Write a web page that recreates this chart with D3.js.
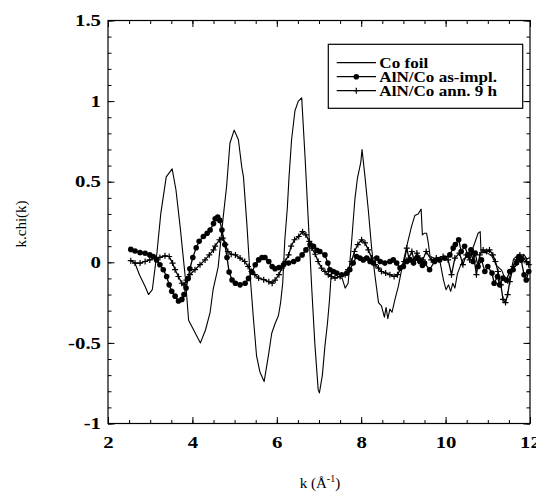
<!DOCTYPE html>
<html>
<head>
<meta charset="utf-8">
<script src="https://cdn.jsdelivr.net/npm/d3@7"></script>
<style>
  body { margin: 0; background: #fff; }
  text { font-family: "Liberation Serif", "Times New Roman", serif; }
</style>
</head>
<body>
<div id="chart"></div>
<script>
// tick labels
const xTicks = [2, 4, 6, 8, 10, 12];
const yTicks = [-1, -0.5, 0, 0.5, 1, 1.5];
const seriesNames = ["Co foil", "AlN/Co as-impl.", "AlN/Co ann. 9 h"];

// Co foil (plain line)
const foilK = [2.63, 2.75, 2.88, 2.96, 3.05, 3.16, 3.25, 3.38, 3.52, 3.61, 3.71, 3.83, 3.91, 4.03, 4.19, 4.31, 4.42, 4.49,
  4.61, 4.73, 4.81, 4.89, 4.99, 5.09, 5.17, 5.21, 5.29, 5.37, 5.44, 5.52, 5.6, 5.7, 5.8, 5.88, 5.96, 6.04, 6.09,
  6.14, 6.19, 6.25, 6.29, 6.35, 6.43, 6.51, 6.59, 6.67, 6.75, 6.83, 6.9, 6.98, 7.01, 7.08, 7.14, 7.2, 7.25, 7.29,
  7.36, 7.45, 7.55, 7.62, 7.69, 7.77, 7.85, 7.91, 7.99, 8.02, 8.09, 8.17, 8.25, 8.33, 8.41, 8.48, 8.55, 8.59, 8.63,
  8.68, 8.73, 8.8, 8.88, 8.97, 9.08, 9.19, 9.27, 9.35, 9.42, 9.45, 9.49, 9.55, 9.59, 9.63, 9.75, 9.87, 9.95, 10.01,
  10.07, 10.12, 10.17, 10.22, 10.28, 10.34, 10.42, 10.58, 10.69, 10.77, 10.82, 10.84, 10.98, 11.09, 11.21, 11.33,
  11.41, 11.47, 11.53, 11.61, 11.69, 11.77, 11.85, 11.93, 11.99];
const foilY = [0.0, -0.08, -0.15, -0.2, -0.17, 0.06, 0.3, 0.53, 0.58, 0.45, 0.22, -0.09, -0.36, -0.42, -0.5, -0.42, -0.31, -0.17,
  -0.03, 0.28, 0.47, 0.74, 0.82, 0.76, 0.59, 0.53, 0.24, -0.09, -0.33, -0.58, -0.68, -0.74, -0.58, -0.44, -0.38, -0.33, -0.25,
  -0.13, 0.14, 0.34, 0.53, 0.76, 0.94, 1.0, 1.02, 0.65, 0.24, -0.17, -0.5, -0.79, -0.81, -0.7, -0.52, -0.38, -0.23, -0.07,
  -0.06, -0.09, -0.1, -0.16, -0.13, 0.12, 0.39, 0.52, 0.62, 0.7, 0.53, 0.32, 0.08, -0.09, -0.25, -0.27, -0.34, -0.28, -0.35,
  -0.29, -0.31, -0.23, -0.15, -0.03, 0.1, 0.22, 0.29, 0.3, 0.33, 0.17, 0.18, 0.18, 0.12, 0.04, 0.02, 0.0, -0.11, -0.17,
  -0.14, -0.18, -0.13, -0.16, -0.07, -0.03, 0.02, 0.04, 0.12, 0.18, 0.19, 0.06, 0.06, 0.04, -0.02, -0.05,
  -0.1, -0.13, -0.08, 0.02, 0.04, 0.0, 0.05, 0.02, 0.03];

// AlN/Co as-implanted (filled circles)
const asK = [2.54, 2.64, 2.76, 2.88, 2.99, 3.07, 3.15, 3.23, 3.31, 3.39, 3.45, 3.51, 3.59, 3.67, 3.75, 3.8, 3.85, 3.9, 3.94,
  4.01, 4.09, 4.16, 4.26, 4.35, 4.42, 4.5, 4.54, 4.6, 4.65, 4.7, 4.77, 4.82, 4.87, 4.94, 5.02, 5.13, 5.25, 5.33, 5.41,
  5.49, 5.57, 5.65, 5.72, 5.81, 5.89, 5.96, 6.05, 6.16, 6.28, 6.4, 6.5, 6.6, 6.69, 6.79, 6.87, 6.95, 7.02, 7.14, 7.21,
  7.26, 7.34, 7.42, 7.54, 7.66, 7.73, 7.81, 7.89, 7.97, 8.05, 8.13, 8.21, 8.29, 8.37, 8.45, 8.56, 8.68, 8.76, 8.84,
  8.92, 9.0, 9.08, 9.16, 9.24, 9.32, 9.39, 9.45, 9.5, 9.62, 9.74, 9.86, 9.98, 10.1, 10.18, 10.23, 10.31, 10.37, 10.45,
  10.53, 10.6, 10.65, 10.7, 10.77, 10.85, 10.93, 11.0, 11.1, 11.15, 11.23, 11.28, 11.36, 11.44, 11.52, 11.6, 11.68,
  11.74, 11.79, 11.86, 11.91, 11.97];
const asY = [0.08, 0.07, 0.06, 0.056, 0.046, 0.036, 0.015, -0.015, -0.046, -0.088, -0.14, -0.18, -0.21, -0.24, -0.23, -0.2, -0.16, -0.1, -0.04,
  0.03, 0.09, 0.13, 0.16, 0.18, 0.2, 0.24, 0.27, 0.28, 0.26, 0.2, 0.11, 0.03, -0.06, -0.11, -0.13, -0.14, -0.13, -0.1, -0.06,
  -0.015, 0.015, 0.03, 0.03, 0.005, -0.026, -0.04, -0.032, -0.015, -0.005, 0.005, 0.02, 0.046, 0.077, 0.11, 0.1, 0.075, 0.067, 0.046, -0.005,
  -0.046, -0.057, -0.067, -0.077, -0.067, -0.046, -0.005, 0.036, 0.026, 0.015, 0.026, 0.005, -0.005, 0.026, 0.005, -0.005, 0.005, 0.015, -0.005,
  -0.036, -0.026, 0.005, 0.015, -0.005, 0.026, 0.005, -0.02, -0.005, -0.046, 0.005, 0.015, 0.026, 0.046, 0.088, 0.11, 0.14, 0.067, 0.1,
  0.046, 0.077, 0.005, 0.057, -0.026, 0.015, -0.057, -0.026, -0.067, -0.13, -0.088, -0.14, -0.098, -0.11, -0.057, -0.046, -0.005,
  0.036, 0.015, -0.077, -0.11, -0.057];

// AlN/Co annealed 9 h (plus signs)
const annK = [2.54, 2.64, 2.76, 2.88, 2.99, 3.11, 3.23, 3.35, 3.45, 3.53, 3.59, 3.67, 3.75, 3.8, 3.86, 3.94, 4.06, 4.18, 4.3,
  4.4, 4.5, 4.54, 4.64, 4.72, 4.78, 4.84, 4.92, 5.02, 5.13, 5.24, 5.32, 5.4, 5.48, 5.57, 5.69, 5.81, 5.89, 5.96, 6.05,
  6.12, 6.2, 6.28, 6.34, 6.42, 6.52, 6.61, 6.69, 6.77, 6.83, 6.91, 6.98, 7.06, 7.14, 7.22, 7.3, 7.38, 7.5, 7.62, 7.69,
  7.77, 7.84, 7.92, 8.01, 8.09, 8.17, 8.25, 8.33, 8.41, 8.48, 8.58, 8.68, 8.78, 8.86, 8.94, 9.02, 9.08, 9.13, 9.2,
  9.25, 9.32, 9.39, 9.46, 9.54, 9.66, 9.78, 9.94, 10.06, 10.14, 10.22, 10.33, 10.41, 10.49, 10.57, 10.65, 10.73, 10.81,
  10.89, 10.97, 11.04, 11.12, 11.18, 11.24, 11.31, 11.36, 11.42, 11.47, 11.52, 11.6, 11.68, 11.76, 11.84, 11.92, 11.97];
const annY = [0.01, -0.005, -0.005, 0.005, 0.015, 0.026, 0.03, 0.04, 0.036, -0.005, -0.046, -0.088, -0.13, -0.14, -0.11, -0.077, -0.046, -0.015, 0.015,
  0.046, 0.077, 0.1, 0.14, 0.15, 0.11, 0.067, 0.05, 0.046, 0.026, 0.005, -0.026, -0.057, -0.077, -0.098, -0.108, -0.12, -0.13, -0.11, -0.077,
  -0.036, 0.005, 0.046, 0.1, 0.14, 0.16, 0.19, 0.17, 0.13, 0.088, 0.05, 0.005, -0.036, -0.057, -0.077, -0.088, -0.098, -0.088, -0.077, -0.046,
  0.005, 0.067, 0.11, 0.14, 0.12, 0.077, 0.026, -0.015, -0.036, -0.057, -0.067, -0.077, -0.088, -0.077, -0.036, 0.005, 0.088, 0.026, 0.067,
  0.015, 0.057, 0.026, 0.015, 0.067, 0.015, 0.026, 0.036, 0.015, -0.077, 0.026, 0.057, -0.015, 0.046, 0.015, 0.067, -0.077, 0.046,
  0.077, 0.067, 0.077, 0.046, 0.005, -0.057, -0.14, -0.23, -0.25, -0.2, -0.12, -0.026, 0.015, 0.046, 0.026, 0.005, -0.015];

const margin = {top: 20.5, right: 6, bottom: 68.5, left: 108};
const width = 536 - margin.left - margin.right;
const height = 492 - margin.top - margin.bottom;

const x = d3.scaleLinear().domain([2, 12]).range([0, width]);
const y = d3.scaleLinear().domain([-1, 1.5]).range([height, 0]);

const svg = d3.select("#chart")
  .append("svg")
    .attr("width", 536)
    .attr("height", 492)
  .append("g")
    .attr("transform", `translate(${margin.left}, ${margin.top})`);

const fmt = d => String(d);
const xMinor = d3.range(2, 12.001, 0.5);
const yMinor = d3.range(-1, 1.5001, 0.1).map(d => +d.toFixed(2));

// tick labels in the reference are wide bold serif
function styleAxis(g) {
  g.select(".domain").remove();
  g.selectAll("line").attr("stroke", "#000").attr("stroke-width", 1);
  g.selectAll("text")
    .attr("fill", "#000")
    .attr("transform", "scale(1.3,1)")
    .style("font-size", "16px")
    .style("font-weight", "bold")
    .style("font-family", "'Liberation Serif', serif");
}

// minor ticks, all four sides
svg.append("g").attr("transform", `translate(0, ${height})`)
  .call(d3.axisBottom(x).tickValues(xMinor).tickSize(-3.5).tickFormat("")).call(styleAxis);
svg.append("g")
  .call(d3.axisTop(x).tickValues(xMinor).tickSize(-3.5).tickFormat("")).call(styleAxis);
svg.append("g")
  .call(d3.axisLeft(y).tickValues(yMinor).tickSize(-3.5).tickFormat("")).call(styleAxis);
svg.append("g").attr("transform", `translate(${width}, 0)`)
  .call(d3.axisRight(y).tickValues(yMinor).tickSize(-3.5).tickFormat("")).call(styleAxis);

// major ticks with labels
svg.append("g").attr("transform", `translate(0, ${height})`)
  .call(d3.axisBottom(x).tickValues(xTicks).tickSize(-6.5).tickPadding(13).tickFormat(fmt)).call(styleAxis);
svg.append("g")
  .call(d3.axisTop(x).tickValues(xTicks).tickSize(-6.5).tickFormat("")).call(styleAxis);
svg.append("g")
  .call(d3.axisLeft(y).tickValues(yTicks).tickSize(-6.5).tickPadding(5.4).tickFormat(fmt)).call(styleAxis);
svg.append("g").attr("transform", `translate(${width}, 0)`)
  .call(d3.axisRight(y).tickValues(yTicks).tickSize(-6.5).tickFormat("")).call(styleAxis);

// frame
svg.append("rect")
  .attr("width", width)
  .attr("height", height)
  .attr("fill", "none")
  .attr("stroke", "#000")
  .attr("stroke-width", 1.2);

const line = d3.line()
  .x(d => x(d[0]))
  .y(d => y(d[1]));

const foil = foilK.map((k, i) => [k, foilY[i]]);
const asImpl = asK.map((k, i) => [k, asY[i]]);
const ann = annK.map((k, i) => [k, annY[i]]);

// Co foil
svg.append("path")
  .datum(foil)
  .attr("fill", "none")
  .attr("stroke", "#000")
  .attr("stroke-width", 1.1)
  .attr("stroke-linejoin", "round")
  .attr("d", line);

// annealed: line + plus markers
svg.append("path")
  .datum(ann)
  .attr("fill", "none")
  .attr("stroke", "#000")
  .attr("stroke-width", 1.3)
  .attr("d", line);

svg.append("g").selectAll("path")
  .data(ann)
  .join("path")
    .attr("transform", d => `translate(${x(d[0])}, ${y(d[1])})`)
    .attr("d", "M-3,0H3M0,-3V3")
    .attr("stroke", "#000")
    .attr("stroke-width", 1.2);

// as-implanted: line + filled circles
svg.append("path")
  .datum(asImpl)
  .attr("fill", "none")
  .attr("stroke", "#000")
  .attr("stroke-width", 1.3)
  .attr("d", line);

svg.append("g").selectAll("circle")
  .data(asImpl)
  .join("circle")
    .attr("cx", d => x(d[0]))
    .attr("cy", d => y(d[1]))
    .attr("r", 2.8)
    .attr("fill", "#000");

// legend
const lg = svg.append("g").attr("transform", `translate(${328.3 - margin.left}, ${44.3 - margin.top})`);
lg.append("rect")
  .attr("width", 194.4)
  .attr("height", 64)
  .attr("fill", "#fff")
  .attr("stroke", "#000")
  .attr("stroke-width", 1.2);

seriesNames.forEach((name, i) => {
  const ly = 18.4 + i * 14;
  lg.append("line")
    .attr("x1", 8.4).attr("x2", 47.7)
    .attr("y1", ly).attr("y2", ly)
    .attr("stroke", "#000")
    .attr("stroke-width", 1.2);
  if (i === 1) {
    lg.append("circle").attr("cx", 28).attr("cy", ly).attr("r", 2.8).attr("fill", "#000");
  }
  if (i === 2) {
    lg.append("path")
      .attr("transform", `translate(28, ${ly})`)
      .attr("d", "M-3,0H3M0,-3V3")
      .attr("stroke", "#000")
      .attr("stroke-width", 1.2);
  }
  lg.append("text")
    .attr("transform", `translate(51, ${ly + 5}) scale(1.14,1)`)
    .style("font-size", "15px")
    .style("font-weight", "bold")
    .text(name);
});

// y-axis label
svg.append("text")
  .attr("transform", "rotate(-90)")
  .attr("x", -(224 - margin.top))
  .attr("y", 20.5 - margin.left)
  .attr("dy", "0.35em")
  .attr("text-anchor", "middle")
  .style("font-size", "15px")
  .text("k.chi(k)");

// x-axis label
const xl = svg.append("text")
  .attr("x", 320 - margin.left)
  .attr("y", 488 - margin.top)
  .attr("text-anchor", "middle")
  .style("font-size", "15px");
xl.append("tspan").text("k (Å");
xl.append("tspan").attr("dy", -6).style("font-size", "10px").text("-1");
xl.append("tspan").attr("dy", 6).text(")");
</script>
</body>
</html>
